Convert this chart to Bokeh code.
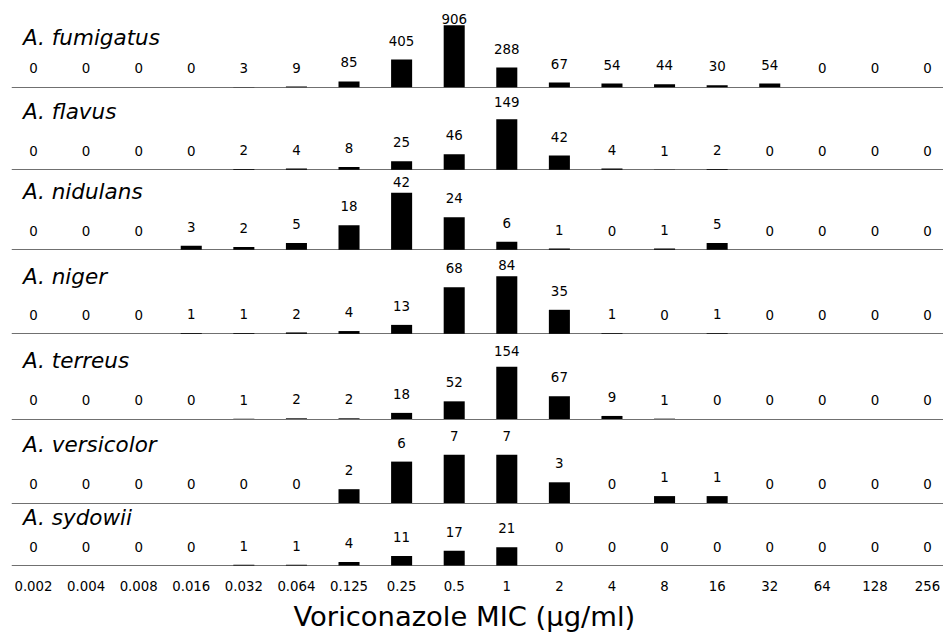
from bokeh.plotting import figure
from bokeh.models import Range1d, FixedTicker, Title
from bokeh.embed import file_html
from bokeh.resources import INLINE
from bokeh.core.properties import value

# ---------------- data ----------------
mic_labels = ["0.002", "0.004", "0.008", "0.016", "0.032", "0.064", "0.125", "0.25",
              "0.5", "1", "2", "4", "8", "16", "32", "64", "128", "256"]
species = ["A. fumigatus", "A. flavus", "A. nidulans", "A. niger",
           "A. terreus", "A. versicolor", "A. sydowii"]
fumigatus = [0, 0, 0, 0, 3, 9, 85, 405, 906, 288, 67, 54, 44, 30, 54, 0, 0, 0]
flavus = [0, 0, 0, 0, 2, 4, 8, 25, 46, 149, 42, 4, 1, 2, 0, 0, 0, 0]
nidulans = [0, 0, 0, 3, 2, 5, 18, 42, 24, 6, 1, 0, 1, 5, 0, 0, 0, 0]
niger = [0, 0, 0, 1, 1, 2, 4, 13, 68, 84, 35, 1, 0, 1, 0, 0, 0, 0]
terreus = [0, 0, 0, 0, 1, 2, 2, 18, 52, 154, 67, 9, 1, 0, 0, 0, 0, 0]
versicolor = [0, 0, 0, 0, 0, 0, 2, 6, 7, 7, 3, 0, 1, 1, 0, 0, 0, 0]
sydowii = [0, 0, 0, 0, 1, 1, 4, 11, 17, 21, 0, 0, 0, 0, 0, 0, 0, 0]
counts = [fumigatus, flavus, nidulans, niger, terreus, versicolor, sydowii]

# ---------------- layout (pixels, measured from frame top) ----------------
FRAME_H = 567
baseline_px = [86.7, 169.3, 249.3, 333.3, 418.5, 502.5, 565.0]
region_top_px = [0.0, 86.7, 169.3, 249.3, 333.3, 418.5, 502.5]
tallest_px = [62.0, 50.5, 57.0, 57.6, 52.3, 48.3, 18.3]
label_ceiling = [18, 15, 12, 15, 17, 13, 13]      # min distance of label centre below region top
name_rise = [49.5, 58.8, 58.8, 57.8, 58.6, 58.6, 48.5]  # species name centre above baseline
LABEL_GAP = 18.9                                   # label centre above bar top

idx = list(range(len(mic_labels)))

p = figure(width=943, height=639, x_range=Range1d(-0.418, 17.304), y_range=Range1d(0, 1),
           output_backend="svg", toolbar_location=None,
           min_border_left=11, min_border_right=0, min_border_top=0, min_border_bottom=72)
p.yaxis.visible = False
p.outline_line_color = None
p.grid.visible = False
p.background_fill_color = "white"
p.border_fill_color = "white"

for k, vals in enumerate(counts):
    b = baseline_px[k]
    s = max(vals) / tallest_px[k]
    name = f"panel{k}"
    p.extra_y_ranges[name] = Range1d(start=-(FRAME_H - b) * s, end=b * s)

    p.hspan(y=[0], line_color="#707070", line_width=1, y_range_name=name)
    p.vbar(x=idx, top=vals, bottom=0, width=0.4, fill_color="black",
           line_color=None, y_range_name=name)
    cap = (b - region_top_px[k] - label_ceiling[k]) * s
    ly = [min(v + LABEL_GAP * s, cap) for v in vals]
    p.text(x=idx, y=ly, text=[str(v) for v in vals], text_align="center",
           text_baseline="middle", text_font=value("DejaVu Sans"),
           text_font_size="13.4px", text_color="black", y_range_name=name)
    p.text(x=[-0.2], y=[name_rise[k] * s], text=[species[k]], text_align="left",
           text_baseline="middle", text_font=value("DejaVu Sans"),
           text_font_style="italic", text_font_size="21.5px", text_color="black",
           y_range_name=name)

ax = p.xaxis[0]
ax.ticker = FixedTicker(ticks=idx)
ax.major_label_overrides = {i: lab for i, lab in zip(idx, mic_labels)}
ax.major_label_text_font = "DejaVu Sans"
ax.major_label_text_font_size = "13.3px"
ax.major_label_text_color = "black"
ax.axis_line_color = None
ax.major_tick_line_color = None
ax.minor_tick_line_color = None
ax.major_tick_out = 0
ax.major_tick_in = 0
ax.major_label_standoff = 13

t = Title(text="Voriconazole MIC (µg/ml)", text_font="DejaVu Sans", text_font_size="27.4px",
          text_font_style="normal", text_color="black", align="left", offset=282, standoff=11)
p.add_layout(t, "below")

open("out.html", "w").write(file_html(p, INLINE))
